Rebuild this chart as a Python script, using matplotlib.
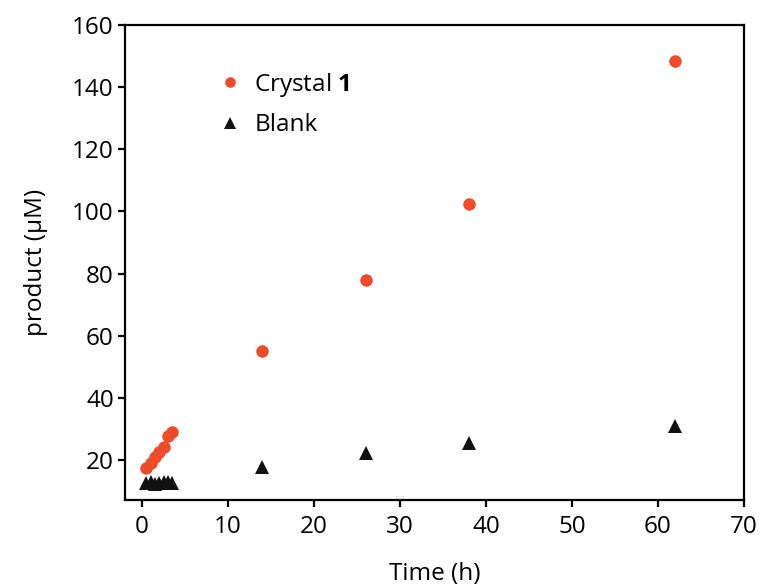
import numpy as np
import matplotlib
matplotlib.use('Agg')
import matplotlib.pyplot as plt

plt.rcParams.update({
    'font.family': ['Open Sans', 'DejaVu Sans'],
    'mathtext.fontset': 'custom',
    'mathtext.rm': 'Open Sans',
    'mathtext.bf': 'Open Sans:bold',
    'axes.linewidth': 1.6,
    'xtick.major.width': 1.6,
    'ytick.major.width': 1.6,
    'xtick.major.size': 5,
    'ytick.major.size': 5,
})

# ---- data ----
time_crystal = [0.5, 1.0, 1.5, 2.0, 2.5, 3.0, 3.5, 14, 26, 38, 62]
prod_crystal = [17.5, 19.0, 21.0, 22.5, 24.0, 27.5, 29.0, 55.0, 78.0, 102.5, 148.5]

time_blank = [0.5, 1.0, 1.5, 2.0, 2.5, 3.0, 3.5, 14, 26, 38, 62]
prod_blank = [12.5, 12.8, 12.3, 12.5, 13.0, 12.8, 12.6, 17.6, 22.1, 25.4, 31.0]

xticks = [0, 10, 20, 30, 40, 50, 60, 70]
yticks = [20, 40, 60, 80, 100, 120, 140, 160]

red = '#ee4b2b'
fs = 17.5

fig = plt.figure(figsize=(7.62, 5.87), dpi=100)
ax = fig.add_axes([0.164, 0.148, 0.812, 0.809])

ax.plot(time_crystal, prod_crystal, 'o', color=red, markersize=9,
        markeredgewidth=0, label=r'Crystal $\mathbf{1}$')
ax.plot(time_blank, prod_blank, '^', color='#111111', markersize=9.5,
        markeredgewidth=0, label='Blank')

ax.set_xlim(-2, 70)
ax.set_ylim(7, 160)
ax.set_xticks(xticks)
ax.set_yticks(yticks)
ax.tick_params(axis='x', labelsize=fs, direction='out', pad=6)
ax.tick_params(axis='y', labelsize=fs, direction='out', pad=3)

ax.set_xlabel('Time (h)', fontsize=fs, labelpad=16)
ax.set_ylabel('product (µM)', fontsize=fs, labelpad=17)

ax.legend(loc='upper left', bbox_to_anchor=(0.115, 0.95), frameon=False,
          fontsize=fs, handletextpad=0.5, labelspacing=0.6,
          handlelength=1.0, markerscale=0.85)

fig.savefig('out.png', dpi=100, facecolor='white')
